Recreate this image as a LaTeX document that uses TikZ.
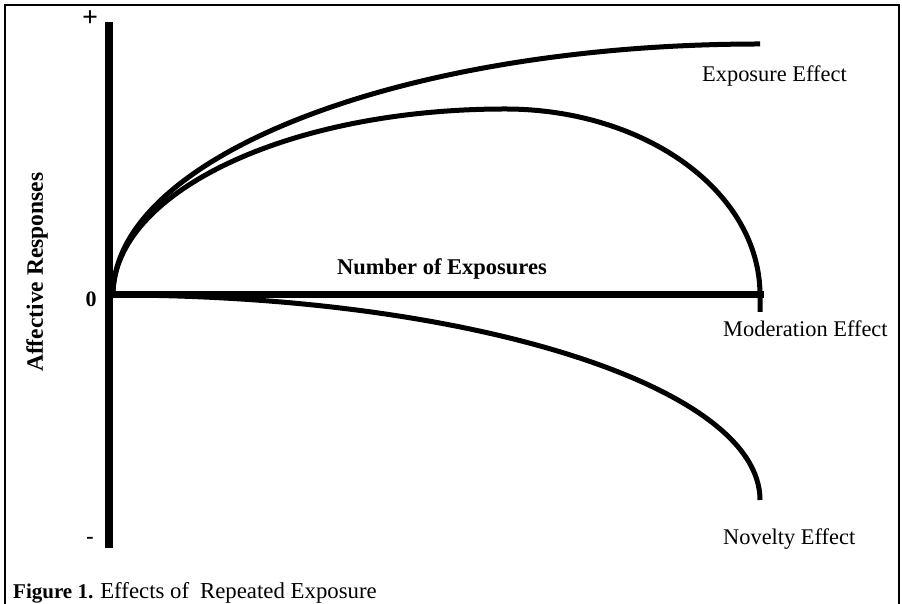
\documentclass[tikz,border=0pt]{standalone}
\usepackage{fontspec}
\setmainfont{Liberation Serif}
\begin{document}
\begin{tikzpicture}[x=1pt,y=1pt,
  lbl/.style={inner sep=0pt, anchor=base west, font=\fontsize{22.4}{26}\selectfont},
  curve/.style={line width=5pt}]
\useasboundingbox (0,0) rectangle (902,604);
% frame
\draw[line width=2.5pt] (5,0) -- (5,599) -- (899,599) -- (899,0);
% axes
\coordinate (ytop) at (109,582);
\coordinate (ybot) at (109,56);
\coordinate (xl) at (109,309);
\coordinate (xr) at (764,309);
\draw[line width=8pt] (ytop) -- (ybot);
\draw[line width=7pt] (xl) -- (xr);
% curves
\coordinate (O) at (113,309);
\draw[curve] (O) arc[start angle=180, end angle=90, x radius=647pt, y radius=251pt] coordinate (expend);
\draw[curve] (O) arc[start angle=180, end angle=90, x radius=392pt, y radius=186pt] coordinate (peak)
  arc[start angle=90, end angle=0, x radius=255pt, y radius=186pt] coordinate (modend) -- ++(0,-17);
\draw[curve] (O) arc[start angle=90, end angle=0, x radius=647pt, y radius=205pt] coordinate (novend);
% labels
\node[inner sep=0pt, font=\fontsize{28}{30}\selectfont\bfseries] (plus) at (90,585) {+};
\node[inner sep=0pt, font=\fontsize{22}{26}\selectfont\bfseries] (minus) at (90,64) {-};
\node[inner sep=0pt, font=\fontsize{22}{26}\selectfont\bfseries] (zero) at (91,305) {0};
\node[lbl] (exp) at (702,522) {Exposure Effect};
\node[lbl] (mod) at (723,267) {Moderation Effect};
\node[lbl] (nov) at (723,59) {Novelty Effect};
\node[lbl, font=\fontsize{22.5}{26}\selectfont\bfseries] (xlab) at (337,329) {Number of Exposures};
\node[lbl, rotate=90, font=\fontsize{23.5}{26}\selectfont\bfseries] (ylab) at (43,232) {Affective Responses};
\node[lbl, font=\fontsize{22.8}{26}\selectfont] (cap) at (13,5.5) {{\fontsize{21}{26}\selectfont\bfseries Figure 1.}\hspace{7pt}Effects of\hspace{11pt}Repeated Exposure};
\end{tikzpicture}
\end{document}
